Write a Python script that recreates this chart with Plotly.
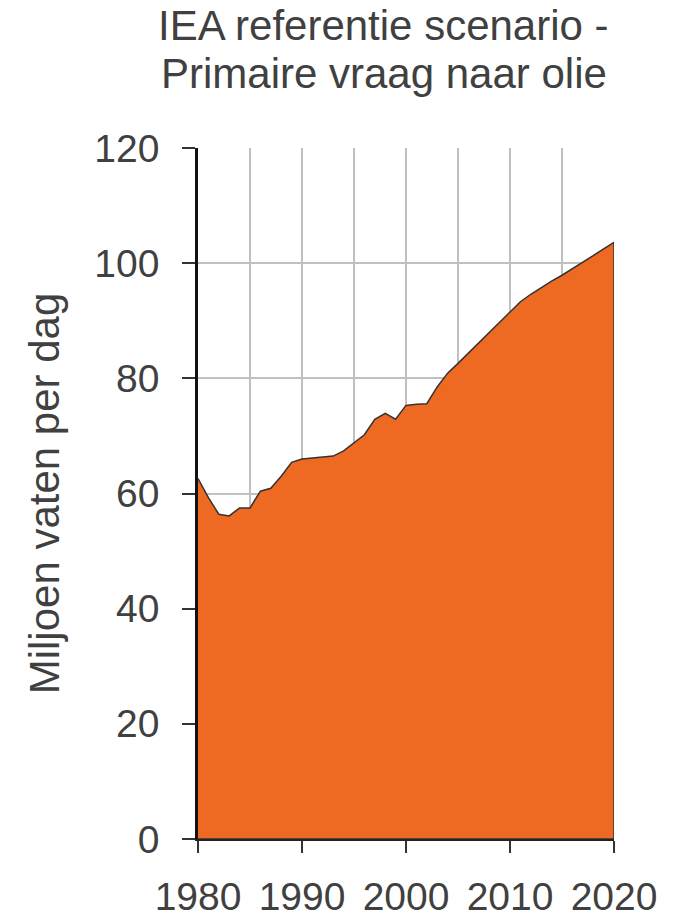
import plotly.graph_objects as go

years = list(range(1980, 2021))
demand = [62.6, 59.3, 56.4, 56.1, 57.5, 57.5, 60.4, 60.9, 63.0, 65.4,
          66.0, 66.2, 66.3, 66.5, 67.4, 68.8, 70.2, 72.9, 73.9, 72.9,
          75.3, 75.5, 75.6, 78.5, 80.9, 82.6, 84.4, 86.2, 88.0, 89.8,
          91.6, 93.3, 94.6, 95.8, 96.9, 97.9, 99.0, 100.2, 101.3, 102.5,
          103.6]

title_lines = ["IEA referentie scenario -", "Primaire vraag naar olie"]
y_title = "Miljoen vaten per dag"
x_ticks = [1980, 1990, 2000, 2010, 2020]
y_ticks = [0, 20, 40, 60, 80, 100, 120]

txt = "#404040"

# closed polygon so the outline also runs down the right edge
px = years + [years[-1], years[0]]
py = demand + [0, 0]

fig = go.Figure()
fig.add_trace(go.Scatter(
    x=px, y=py, mode="lines", fill="toself",
    fillcolor="#EE6A22", line=dict(color="#333333", width=1.5),
    hoverinfo="skip", showlegend=False))

ann = []
for i, line in enumerate(title_lines):
    ann.append(dict(text=line, xref="paper", yref="paper",
                    x=0.447, y=1.1766 - i * 0.0695, xanchor="center", yanchor="middle",
                    showarrow=False,
                    font=dict(family="Liberation Sans, Arial", size=42, color=txt)))

fig.update_layout(
    width=674, height=919,
    margin=dict(l=198, r=60, t=148, b=80),
    paper_bgcolor="white", plot_bgcolor="white",
    annotations=ann,
    font=dict(family="Liberation Sans, Arial", color=txt),
)
fig.update_xaxes(
    range=[1980, 2020], tickvals=x_ticks, ticktext=[str(v) for v in x_ticks],
    ticks="outside", ticklen=12, tickwidth=1.5, tickcolor="#333333",
    tickfont=dict(size=39, color=txt), ticklabelstandoff=10,
    showgrid=True, gridcolor="#c0c0c0", gridwidth=1.5,
    minor=dict(dtick=5, tick0=1980, showgrid=True, gridcolor="#c0c0c0", gridwidth=1.5),
    showline=True, linecolor="#222222", linewidth=2,
    zeroline=False, fixedrange=True, automargin=False)
fig.update_yaxes(
    range=[0, 120], tickvals=y_ticks,
    ticks="outside", ticklen=13, tickwidth=1.5, tickcolor="#333333",
    tickfont=dict(size=39, color=txt), ticklabelstandoff=15,
    showgrid=True, gridcolor="#c0c0c0", gridwidth=1.5,
    showline=True, linecolor="#111111", linewidth=2.5,
    zeroline=False,
    title=dict(text=y_title, font=dict(size=42, color=txt), standoff=22),
    fixedrange=True, automargin=False)

fig.write_html("out.html")
